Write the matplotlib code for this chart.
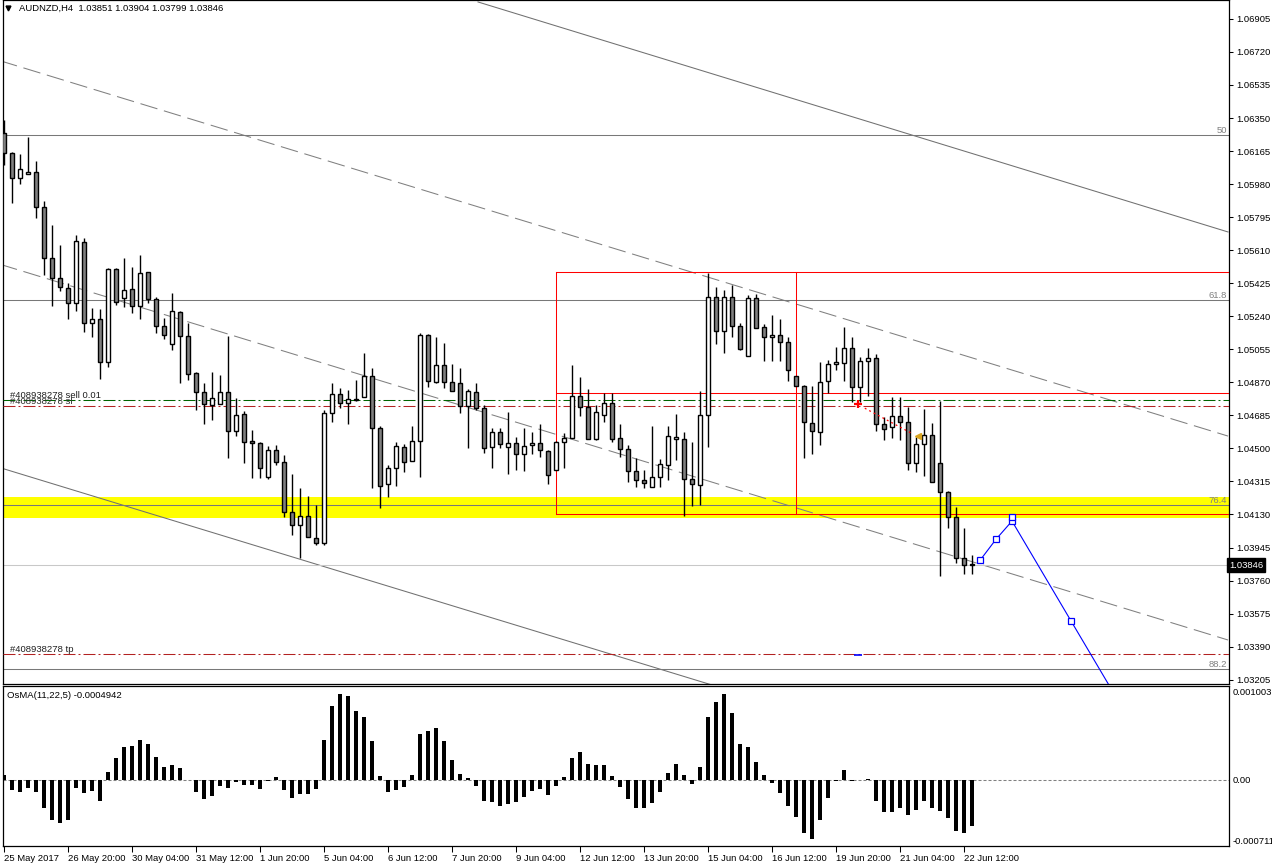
import numpy as np
import matplotlib

matplotlib.use("Agg")
import matplotlib.pyplot as plt

plt.rcParams["font.family"] = ["Liberation Sans", "DejaVu Sans"]
plt.rcParams["font.size"] = 6.8

# AUDNZD H4 candles, 25 May 2017 -> 22 Jun 2017
opens = [
    1.06266, 1.06154, 1.06014, 1.06037, 1.06048, 1.05852, 1.05566, 1.05454, 1.05398, 1.05314,
    1.05656, 1.05202, 1.05225, 1.04984, 1.05505, 1.05342, 1.05393, 1.05297, 1.05488, 1.05337,
    1.05185, 1.05085, 1.05264, 1.05130, 1.04922, 1.04816, 1.04743, 1.04749, 1.04816, 1.04597,
    1.04693, 1.04541, 1.04530, 1.04340, 1.04491, 1.04424, 1.04144, 1.04071, 1.04121, 1.03998,
    1.03970, 1.04698, 1.04805, 1.04754, 1.04771, 1.04788, 1.04905, 1.04614, 1.04301, 1.04390,
    1.04508, 1.04429, 1.04541, 1.05135, 1.04872, 1.04967, 1.04872, 1.04866, 1.04737, 1.04816,
    1.04726, 1.04508, 1.04592, 1.04508, 1.04530, 1.04469, 1.04519, 1.04530, 1.04485, 1.04379,
    1.04536, 1.04558, 1.04793, 1.04732, 1.04553, 1.04687, 1.04754, 1.04558, 1.04497, 1.04373,
    1.04323, 1.04284, 1.04340, 1.04407, 1.04553, 1.04553, 1.04329, 1.04295, 1.04687, 1.05348,
    1.05157, 1.05348, 1.05185, 1.05017, 1.05342, 1.05180, 1.05124, 1.05135, 1.05096, 1.04905,
    1.04850, 1.04642, 1.04592, 1.04877, 1.04973, 1.04978, 1.05062, 1.04844, 1.04989, 1.05006,
    1.04637, 1.04620, 1.04681, 1.04648, 1.04418, 1.04525, 1.04575, 1.04418, 1.04256, 1.04116,
    1.03886, 1.03851,
]
highs = [
    1.06339, 1.06160, 1.06149, 1.06244, 1.06109, 1.05885, 1.05751, 1.05639, 1.05426, 1.05695,
    1.05678, 1.05286, 1.05281, 1.05510, 1.05510, 1.05566, 1.05516, 1.05583, 1.05490, 1.05348,
    1.05230, 1.05370, 1.05269, 1.05202, 1.04928, 1.04866, 1.04928, 1.04911, 1.05130, 1.04782,
    1.04709, 1.04603, 1.04536, 1.04513, 1.04519, 1.04463, 1.04357, 1.04278, 1.04233, 1.04183,
    1.04715, 1.04866, 1.04838, 1.04827, 1.04883, 1.05034, 1.04950, 1.04625, 1.04407, 1.04536,
    1.04525, 1.04625, 1.05146, 1.05141, 1.05124, 1.05090, 1.04973, 1.04950, 1.04833, 1.04866,
    1.04743, 1.04614, 1.04614, 1.04704, 1.04564, 1.04614, 1.04592, 1.04637, 1.04491, 1.04541,
    1.04586, 1.04967, 1.04900, 1.04833, 1.04743, 1.04810, 1.04810, 1.04637, 1.04519, 1.04446,
    1.04379, 1.04625, 1.04441, 1.04625, 1.04693, 1.04592, 1.04536, 1.04821, 1.05482, 1.05404,
    1.05387, 1.05415, 1.05202, 1.05359, 1.05365, 1.05197, 1.05247, 1.05225, 1.05124, 1.04905,
    1.04855, 1.04850, 1.04984, 1.04995, 1.05068, 1.05180, 1.05124, 1.05012, 1.05062, 1.05029,
    1.04676, 1.04788, 1.04788, 1.04732, 1.04564, 1.04721, 1.04642, 1.04765, 1.04261, 1.04172,
    1.04054, 1.03904,
]
lows = [
    1.06087, 1.05874, 1.05981, 1.06037, 1.05790, 1.05471, 1.05297, 1.05381, 1.05225, 1.05269,
    1.05152, 1.05124, 1.04889, 1.04956, 1.05303, 1.05292, 1.05258, 1.05225, 1.05314, 1.05146,
    1.05113, 1.05051, 1.04866, 1.04883, 1.04715, 1.04637, 1.04659, 1.04749, 1.04446, 1.04569,
    1.04418, 1.04334, 1.04334, 1.04329, 1.04407, 1.04116, 1.04015, 1.03886, 1.04004, 1.03959,
    1.03959, 1.04648, 1.04726, 1.04637, 1.04768, 1.04788, 1.04278, 1.04166, 1.04228, 1.04289,
    1.04368, 1.04429, 1.04340, 1.04844, 1.04866, 1.04838, 1.04821, 1.04698, 1.04502, 1.04715,
    1.04474, 1.04390, 1.04502, 1.04357, 1.04379, 1.04373, 1.04469, 1.04452, 1.04301, 1.04379,
    1.04390, 1.04558, 1.04681, 1.04553, 1.04547, 1.04648, 1.04536, 1.04452, 1.04312, 1.04284,
    1.04278, 1.04284, 1.04284, 1.04323, 1.04435, 1.04121, 1.04177, 1.04183, 1.04508, 1.05085,
    1.05034, 1.05124, 1.05051, 1.05017, 1.05174, 1.04989, 1.04989, 1.04989, 1.04877, 1.04850,
    1.04446, 1.04469, 1.04519, 1.04810, 1.04939, 1.04877, 1.04760, 1.04760, 1.04793, 1.04597,
    1.04547, 1.04558, 1.04547, 1.04379, 1.04368, 1.04345, 1.04312, 1.03785, 1.04054, 1.03858,
    1.03797, 1.03799,
]
closes = [
    1.06154, 1.06014, 1.06065, 1.06048, 1.05852, 1.05566, 1.05454, 1.05404, 1.05314, 1.05661,
    1.05202, 1.05225, 1.04984, 1.05505, 1.05320, 1.05387, 1.05297, 1.05482, 1.05337, 1.05185,
    1.05135, 1.05269, 1.05130, 1.04917, 1.04816, 1.04749, 1.04782, 1.04816, 1.04597, 1.04687,
    1.04536, 1.04530, 1.04390, 1.04491, 1.04424, 1.04144, 1.04071, 1.04121, 1.04004, 1.03970,
    1.04698, 1.04805, 1.04754, 1.04777, 1.04774, 1.04905, 1.04614, 1.04289, 1.04390, 1.04513,
    1.04424, 1.04541, 1.05135, 1.04877, 1.04967, 1.04872, 1.04821, 1.04737, 1.04821, 1.04726,
    1.04502, 1.04592, 1.04525, 1.04530, 1.04469, 1.04513, 1.04530, 1.04491, 1.04351, 1.04536,
    1.04558, 1.04793, 1.04732, 1.04553, 1.04704, 1.04754, 1.04553, 1.04497, 1.04373, 1.04323,
    1.04306, 1.04340, 1.04413, 1.04569, 1.04564, 1.04329, 1.04301, 1.04687, 1.05348, 1.05157,
    1.05348, 1.05185, 1.05057, 1.05342, 1.05174, 1.05124, 1.05135, 1.05096, 1.04939, 1.04850,
    1.04648, 1.04597, 1.04872, 1.04973, 1.04984, 1.05062, 1.04844, 1.04989, 1.05006, 1.04637,
    1.04609, 1.04681, 1.04648, 1.04418, 1.04525, 1.04575, 1.04312, 1.04256, 1.04116, 1.03886,
    1.03847, 1.03846,
]

# OsMA(11,22,5) histogram
osma = [
    0.000054, -0.000109, -0.000127, -0.000090, -0.000127, -0.000300, -0.000434, -0.000463, -0.000434, -0.000090,
    -0.000137, -0.000119, -0.000224, 0.000087, 0.000242, 0.000358, 0.000369, 0.000434, 0.000391, 0.000250,
    0.000141, 0.000159, 0.000127, 0.000003, -0.000127, -0.000210, -0.000170, -0.000065, -0.000090, -0.000018,
    -0.000054, -0.000054, -0.000094, -0.000011, 0.000029, -0.000109, -0.000192, -0.000156, -0.000156, -0.000101,
    0.000434, 0.000803, 0.000933, 0.000911, 0.000749, 0.000684, 0.000423, 0.000040, -0.000127, -0.000109,
    -0.000072, 0.000051, 0.000499, 0.000532, 0.000564, 0.000423, 0.000217, 0.000061, 0.000018, -0.000061,
    -0.000228, -0.000242, -0.000279, -0.000260, -0.000239, -0.000181, -0.000119, -0.000098, -0.000163, -0.000065,
    0.000033, 0.000242, 0.000304, 0.000174, 0.000163, 0.000163, 0.000043, -0.000072, -0.000210, -0.000300,
    -0.000307, -0.000246, -0.000127, 0.000080, 0.000174, 0.000054, -0.000047, 0.000141, 0.000687, 0.000850,
    0.000933, 0.000727, 0.000391, 0.000358, 0.000195, 0.000054, -0.000036, -0.000137, -0.000282, -0.000398,
    -0.000571, -0.000640, -0.000434, -0.000192, -0.000011, 0.000109, -0.000007, -0.000004, 0.000011, -0.000224,
    -0.000344, -0.000344, -0.000307, -0.000376, -0.000322, -0.000224, -0.000300, -0.000333, -0.000409, -0.000550,
    -0.000571, -0.0004942,
]

time_ticks = list(range(0, 121, 8))
time_labels = [
    "25 May 2017", "26 May 20:00", "30 May 04:00", "31 May 12:00", "1 Jun 20:00",
    "5 Jun 04:00", "6 Jun 12:00", "7 Jun 20:00", "9 Jun 04:00", "12 Jun 12:00",
    "13 Jun 20:00", "15 Jun 04:00", "16 Jun 12:00", "19 Jun 20:00", "21 Jun 04:00",
    "22 Jun 12:00",
]
price_ticks = [1.06905, 1.06720, 1.06535, 1.06350, 1.06165, 1.05980, 1.05795, 1.05610,
               1.05425, 1.05240, 1.05055, 1.04870, 1.04685, 1.04500, 1.04315, 1.04130,
               1.03945, 1.03760, 1.03575, 1.03390, 1.03205]

# drawn objects: (bar, price) end points
channel_solid = [([59.25, 153.0], [1.07000, 1.05712]),
                 ([-0.5, 153.0], [1.04392, 1.02293])]
channel_dashed = [([-0.5, 153.0], [1.06671, 1.04569]),
                  ([-0.5, 153.0], [1.05531, 1.03427])]
fib_levels = [1.06255, 1.05331, 1.04183, 1.03265]
fib_names = ["50", "61.8", "76.4", "88.2"]
zone_low, zone_high = 1.04110, 1.04228
box_bars = [69, 99]
box_prices = [1.05488, 1.04810, 1.04133]
sell_price, sl_price, tp_price = 1.04771, 1.04737, 1.03347
bid = 1.03846
proj_bars = [122, 124, 126, 133.4, 140]
proj_prices = [1.03873, 1.03991, 1.04093, 1.03532, 1.03032]
proj_peak = (126, 1.04117)
trade_bars = [107.6, 113.6]
trade_prices = [1.04725, 1.04581]

W, H = 1272, 867
fig = plt.figure(figsize=(W / 100, H / 100), dpi=100)
fig.patch.set_facecolor("white")


def px_axes(x0, y0, x1, y1):
    return fig.add_axes([x0 / W, 1 - y1 / H, (x1 - x0) / W, (y1 - y0) / H])


ax = px_axes(3, 0, 1229, 684)
axo = px_axes(3, 686, 1229, 846)

n = len(opens)
x = np.arange(n)
o, h, l, c = (np.array(v) for v in (opens, highs, lows, closes))

xmin, xmax = -0.125, 153.125
ax.set_xlim(xmin, xmax)
ax.set_ylim(1.031806, 1.07011)

# background zone
ax.axhspan(zone_low, zone_high, color="#FFFF00", lw=0, zorder=1)

# channels
for bx, py in channel_solid:
    ax.plot(bx, py, color="#707070", lw=0.75, zorder=2)
for bx, py in channel_dashed:
    ax.plot(bx, py, color="#808080", lw=0.75, dashes=(17, 6.5), zorder=2)

# fibo levels
for lvl, name in zip(fib_levels, fib_names):
    ax.axhline(lvl, color="#787878", lw=0.75, zorder=2)
    ax.text(152.9, lvl, name, color="#808080", ha="right", va="bottom", zorder=7)

# red boxes
rc = "#FF0000"
for p in box_prices:
    ax.plot([box_bars[0], xmax], [p, p], color=rc, lw=0.75, zorder=3)
for b in box_bars:
    ax.plot([b, b], [box_prices[2], box_prices[0]], color=rc, lw=0.75, zorder=3)

# order lines
dd = (11.5, 2.9, 1.9, 2.9)
ax.axhline(sell_price, color="#006400", lw=0.75, dashes=dd, zorder=3)
ax.axhline(sl_price, color="#B22222", lw=0.75, dashes=dd, zorder=3)
ax.axhline(tp_price, color="#B22222", lw=0.75, dashes=dd, zorder=3)
ax.text(0.75, sell_price + 0.00002, "#408938278 sell 0.01", ha="left", va="bottom", color="#202020", zorder=7)
ax.text(0.75, sl_price + 0.00003, "#408938278 sl", ha="left", va="bottom", color="#303030", zorder=7)
ax.text(0.75, tp_price + 0.00003, "#408938278 tp", ha="left", va="bottom", color="#202020", zorder=7)

# bid line
ax.axhline(bid, color="#C8C8C8", lw=0.75, zorder=2)

# candles
ax.vlines(x, l, h, color="black", lw=1.0, zorder=4)
body_lo = np.minimum(o, c)
body_h = np.maximum(np.abs(c - o), 0.000015)
colors = np.where(c >= o, "white", "#808080")
ax.bar(x, body_h, bottom=body_lo, width=0.58, color=colors, edgecolor="black", linewidth=1.0, zorder=5)

# closed trade marks
ax.plot([106.7], [1.04749], marker="+", color="red", ms=6, mew=1.6, zorder=6)
ax.plot(trade_bars, trade_prices, color="red", lw=0.9, dashes=(1.5, 2.5), zorder=6)
ax.plot([114.2], [1.04567], marker="<", color="#DAA520", ms=4, zorder=6)
ax.plot([106.75], [1.03343], marker="_", color="blue", ms=6, mew=1.2, zorder=6)

# projection
ax.plot(proj_bars, proj_prices, color="#0000FF", lw=0.8, zorder=6)
ax.plot(proj_bars[:4] + [proj_peak[0]], proj_prices[:4] + [proj_peak[1]], ls="none", marker="s", ms=4,
        mfc="white", mec="#0000FF", mew=0.9, zorder=7)

# right price scale
ax.yaxis.tick_right()
ax.set_yticks(price_ticks)
ax.set_yticklabels([f"{p:.5f}" for p in price_ticks])
ax.tick_params(axis="y", direction="out", length=3, width=0.75, pad=2, labelsize=6.8)
ax.set_xticks([])
ax.text(1.0, bid, "1.03846", transform=ax.get_yaxis_transform(), ha="left", va="center", color="white",
        fontsize=6.8, clip_on=False, zorder=8,
        bbox=dict(boxstyle="square,pad=0.25", facecolor="black", edgecolor="black"))

# header
ax.plot([0.004], [0.988], marker="v", color="black", ms=3.5, transform=ax.transAxes, clip_on=False)
fig.text(19 / W, 1 - 8.5 / H, "AUDNZD,H4  1.03851 1.03904 1.03799 1.03846", ha="left", va="center")

# OsMA panel
axo.set_xlim(xmin, xmax)
axo.set_ylim(-0.000716, 0.00102)
axo.axhline(0, color="#808080", lw=0.75, dashes=(2.9, 1.9), zorder=1)
axo.bar(x, osma, width=0.38, color="black", zorder=3)
axo.set_yticks([])
axo.set_xticks(time_ticks)
axo.set_xticklabels(time_labels)
for lab in axo.get_xticklabels():
    lab.set_ha("left")
axo.tick_params(axis="x", direction="out", length=4, width=0.75, pad=2, labelsize=6.8)
ytr = axo.get_yaxis_transform()
axo.text(1.003, 0.001003, "0.001003", transform=ytr, ha="left", va="top", clip_on=False)
axo.text(1.003, 0.0, "0.00", transform=ytr, ha="left", va="center", clip_on=False)
axo.text(1.003, -0.000711, "-0.000711", transform=ytr, ha="left", va="bottom", clip_on=False)
axo.text(0.003, 0.97, "OsMA(11,22,5) -0.0004942", transform=axo.transAxes, ha="left", va="top")

for a in (ax, axo):
    for s in a.spines.values():
        s.set_linewidth(0.9)
        s.set_color("black")

fig.savefig("out.png", dpi=100, facecolor="white")
